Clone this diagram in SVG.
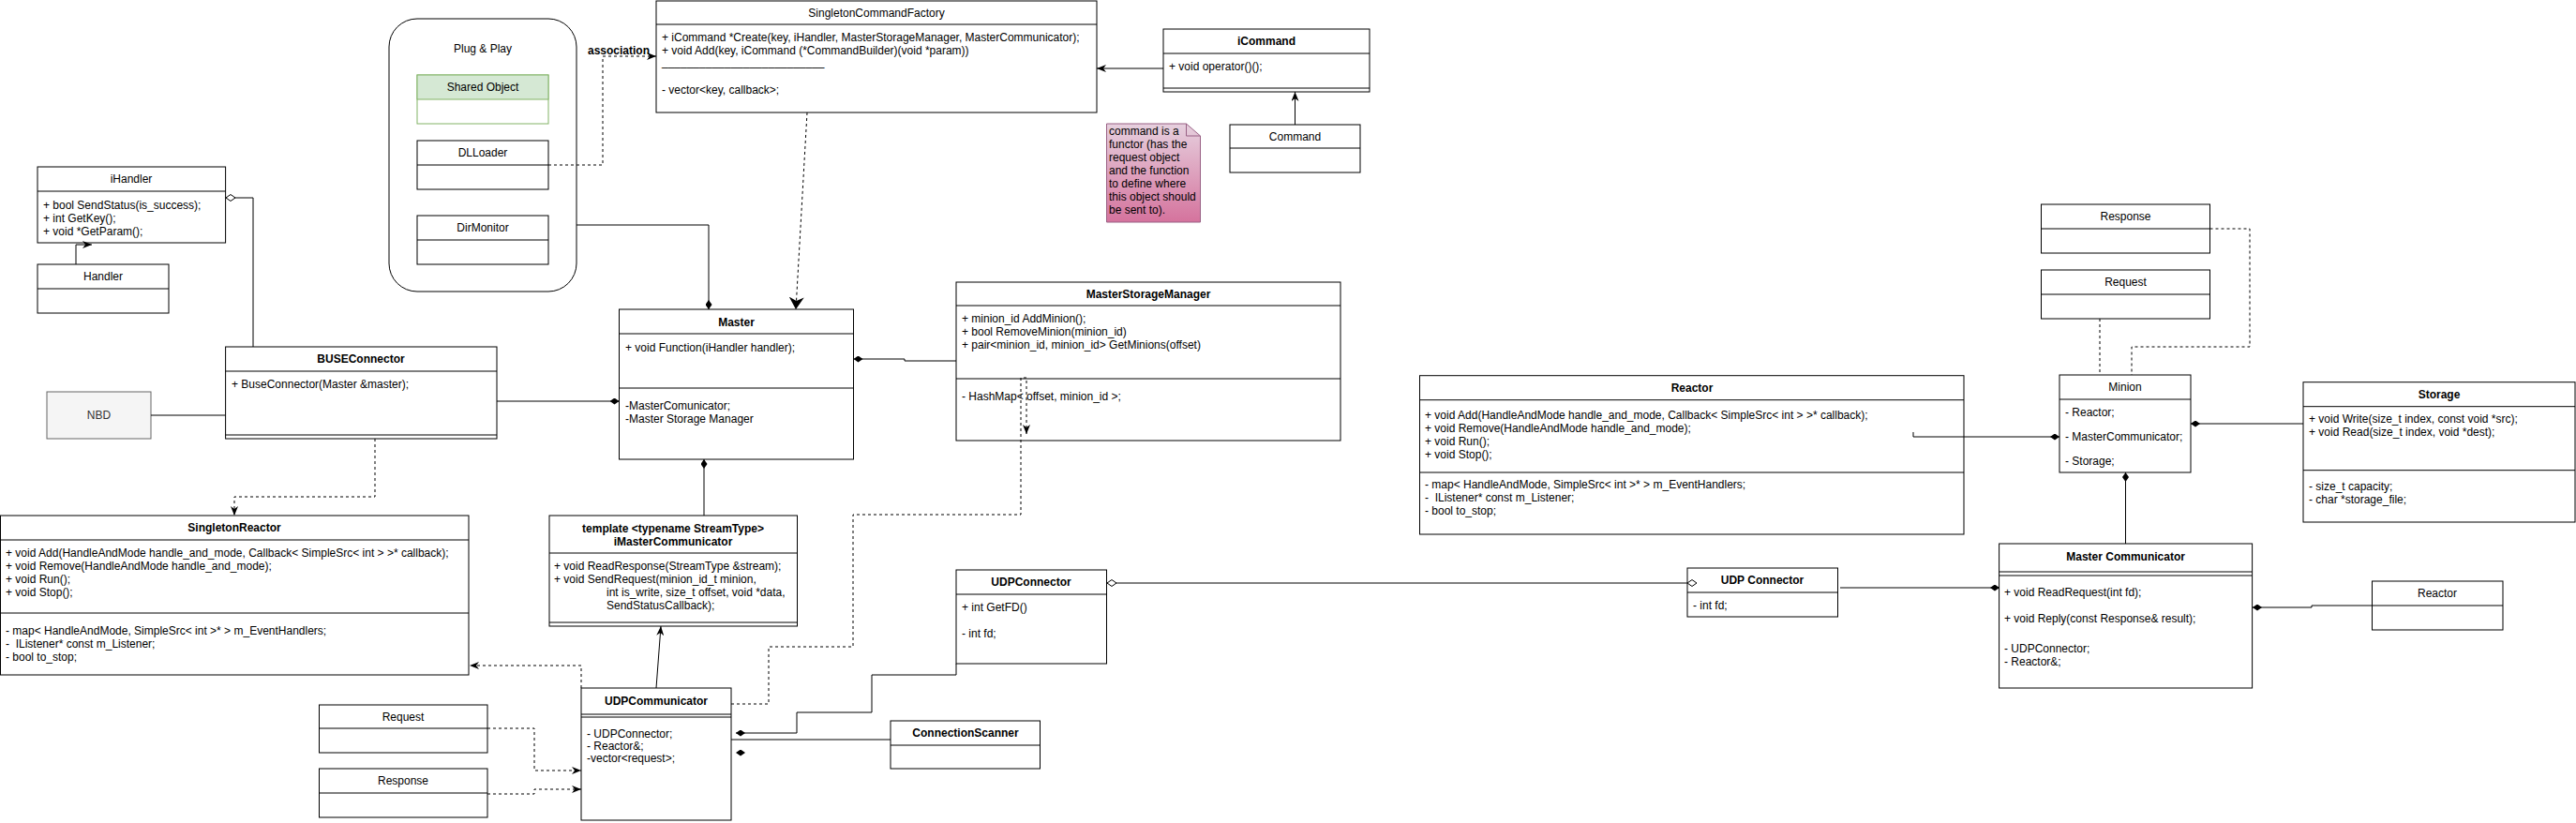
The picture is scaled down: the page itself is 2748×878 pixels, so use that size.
<svg xmlns="http://www.w3.org/2000/svg" width="2748" height="878" viewBox="0 0 2748 878">
<style>
.box{fill:#fff;stroke:#000;stroke-width:1}
.ln{fill:none;stroke:#000;stroke-width:1}
.t{font-family:"Liberation Sans",Arial,sans-serif;font-size:12px;fill:#000}
.b{font-weight:bold}
.c{text-anchor:middle}
.e{fill:none;stroke:#000;stroke-width:1}
.d{stroke-dasharray:3,3}
</style>
<defs>
<marker id="arr" viewBox="0 0 10 8" refX="10" refY="4" markerWidth="10" markerHeight="8" orient="auto" markerUnits="userSpaceOnUse"><path d="M0,0 L10,4 L0,8 L3,4 Z" fill="#000"/></marker>
<marker id="arrBig" viewBox="0 0 13 16" refX="13" refY="8" markerWidth="13" markerHeight="16" orient="auto" markerUnits="userSpaceOnUse"><path d="M0,0 L13,8 L0,16 L4,8 Z" fill="#000"/></marker>
<marker id="dia" viewBox="0 0 10 7" refX="10" refY="3.5" markerWidth="10" markerHeight="7" orient="auto" markerUnits="userSpaceOnUse"><path d="M0,3.5 L5,0 L10,3.5 L5,7 Z" fill="#000"/></marker>
<marker id="odia" viewBox="-1 -1 12 9" refX="10" refY="3.5" markerWidth="12" markerHeight="9" orient="auto" markerUnits="userSpaceOnUse"><path d="M0,3.5 L5,0 L10,3.5 L5,7 Z" fill="#fff" stroke="#000" stroke-width="1"/></marker>
<linearGradient id="noteG" x1="0" y1="0" x2="0" y2="1"><stop offset="0" stop-color="#e6d0de"/><stop offset="1" stop-color="#d5739d"/></linearGradient>
</defs>
<rect width="2748" height="878" fill="#fff"/>

<g id="plugplay">
<rect class="box" x="415" y="20" width="200" height="291" rx="30" ry="30"/>
<text class="t c" x="515" y="56">Plug &amp; Play</text>
</g>
<g id="sharedobject">
<rect x="445" y="80" width="140" height="52" fill="#fff" stroke="#82b366"/>
<rect x="445" y="80" width="140" height="26" fill="#d5e8d4" stroke="#82b366"/>
<text class="t c" x="515" y="97">Shared Object</text>
</g>
<g id="dlloader">
<rect class="box" x="445" y="150" width="140" height="52"/>
<line class="ln" x1="445" y1="176" x2="585" y2="176"/>
<text class="t c" x="515" y="167">DLLoader</text>
</g>
<g id="dirmonitor">
<rect class="box" x="445" y="230" width="140" height="52"/>
<line class="ln" x1="445" y1="256" x2="585" y2="256"/>
<text class="t c" x="515" y="247">DirMonitor</text>
</g>

<g id="singletoncommandfactory">
<rect class="box" x="700" y="1" width="470" height="119"/>
<line class="ln" x1="700" y1="26" x2="1170" y2="26"/>
<text class="t c" x="935" y="18">SingletonCommandFactory</text>
<text class="t" x="706" y="44">+ iCommand *Create(key, iHandler, MasterStorageManager, MasterCommunicator);</text>
<text class="t" x="706" y="58">+ void Add(key, iCommand (*CommandBuilder)(void *param))</text>
<text class="t" x="706" y="70">__________________________</text>
<text class="t" x="706" y="100">- vector&lt;key, callback&gt;;</text>
</g>

<g id="icommand">
<rect class="box" x="1241" y="31" width="220" height="67"/>
<line class="ln" x1="1241" y1="57" x2="1461" y2="57"/>
<line class="ln" x1="1241" y1="94" x2="1461" y2="94"/>
<text class="t b c" x="1351" y="48">iCommand</text>
<text class="t" x="1247" y="75">+ void operator()();</text>
</g>

<g id="command">
<rect class="box" x="1312" y="133" width="139" height="51"/>
<line class="ln" x1="1312" y1="158" x2="1451" y2="158"/>
<text class="t c" x="1381.5" y="150">Command</text>
</g>

<g id="note">
<path d="M1180.5,132 H1265.5 L1280.5,145 V237 H1180.5 Z" fill="url(#noteG)" stroke="#996185"/>
<path d="M1265.5,132 V145 H1280.5" fill="none" stroke="#996185"/>
<text class="t" x="1183" y="144">command is a</text>
<text class="t" x="1183" y="158">functor (has the</text>
<text class="t" x="1183" y="172">request object</text>
<text class="t" x="1183" y="186">and the function</text>
<text class="t" x="1183" y="200">to define where</text>
<text class="t" x="1183" y="214">this object should</text>
<text class="t" x="1183" y="228">be sent to).</text>
</g>

<g id="ihandler">
<rect class="box" x="40" y="178" width="200.6" height="81"/>
<line class="ln" x1="40" y1="204" x2="240.6" y2="204"/>
<text class="t c" x="140" y="195">iHandler</text>
<text class="t" x="46" y="223">+ bool SendStatus(is_success);</text>
<text class="t" x="46" y="237">+ int GetKey();</text>
<text class="t" x="46" y="251">+ void *GetParam();</text>
</g>

<g id="handler">
<rect class="box" x="40" y="282" width="140" height="52"/>
<line class="ln" x1="40" y1="308" x2="180" y2="308"/>
<text class="t c" x="110" y="299">Handler</text>
</g>

<g id="buseconnector">
<rect class="box" x="240.6" y="370" width="289.4" height="98"/>
<line class="ln" x1="240.6" y1="396" x2="530" y2="396"/>
<line class="ln" x1="240.6" y1="464" x2="530" y2="464"/>
<text class="t b c" x="385" y="387">BUSEConnector</text>
<text class="t" x="247" y="414">+ BuseConnector(Master &amp;master);</text>
</g>

<g id="nbd">
<rect x="50" y="418" width="111" height="50" fill="#f5f5f5" stroke="#666666"/>
<text class="t c" x="105.5" y="447" fill="#333333" style="fill:#333333">NBD</text>
</g>

<g id="singletonreactor">
<rect class="box" x="0.5" y="550" width="499.5" height="170"/>
<line class="ln" x1="0.5" y1="576" x2="500" y2="576"/>
<line class="ln" x1="0.5" y1="654" x2="500" y2="654"/>
<text class="t b c" x="250" y="567">SingletonReactor</text>
<text class="t" x="6" y="594">+ void Add(HandleAndMode handle_and_mode, Callback&lt; SimpleSrc&lt; int &gt; &gt;* callback);</text>
<text class="t" x="6" y="608">+ void Remove(HandleAndMode handle_and_mode);</text>
<text class="t" x="6" y="622">+ void Run();</text>
<text class="t" x="6" y="636">+ void Stop();</text>
<text class="t" x="6" y="677">- map&lt; HandleAndMode, SimpleSrc&lt; int &gt;* &gt; m_EventHandlers;</text>
<text class="t" x="6" y="691" xml:space="preserve">-  IListener* const m_Listener;</text>
<text class="t" x="6" y="705">- bool to_stop;</text>
</g>

<g id="master">
<rect class="box" x="660.5" y="330" width="250" height="160"/>
<line class="ln" x1="660.5" y1="356" x2="910.5" y2="356"/>
<line class="ln" x1="660.5" y1="414" x2="910.5" y2="414"/>
<text class="t b c" x="785.5" y="348">Master</text>
<text class="t" x="667" y="375">+ void Function(iHandler handler);</text>
<text class="t" x="667" y="437">-MasterComunicator;</text>
<text class="t" x="667" y="451">-Master Storage Manager</text>
</g>

<g id="masterstoragemanager">
<rect class="box" x="1020" y="301" width="410" height="169"/>
<line class="ln" x1="1020" y1="326" x2="1430" y2="326"/>
<line class="ln" x1="1020" y1="404" x2="1430" y2="404"/>
<text class="t b c" x="1225" y="318">MasterStorageManager</text>
<text class="t" x="1026" y="344">+ minion_id AddMinion();</text>
<text class="t" x="1026" y="358">+ bool RemoveMinion(minion_id)</text>
<text class="t" x="1026" y="372">+ pair&lt;minion_id, minion_id&gt; GetMinions(offset)</text>
<text class="t" x="1026" y="427">- HashMap&lt; offset, minion_id &gt;;</text>
</g>

<g id="imastercommunicator">
<rect class="box" x="586" y="550" width="264.5" height="118"/>
<line class="ln" x1="586" y1="590" x2="850.5" y2="590"/>
<line class="ln" x1="586" y1="664" x2="850.5" y2="664"/>
<text class="t b c" x="718" y="568">template &lt;typename StreamType&gt;</text>
<text class="t b c" x="718" y="582">iMasterCommunicator</text>
<text class="t" x="591" y="608">+ void ReadResponse(StreamType &amp;stream);</text>
<text class="t" x="591" y="622">+ void SendRequest(minion_id_t minion,</text>
<text class="t" x="647" y="636">int is_write, size_t offset, void *data,</text>
<text class="t" x="647" y="650">SendStatusCallback);</text>
</g>

<g id="udpcommunicator">
<rect class="box" x="620" y="734" width="160" height="141"/>
<line class="ln" x1="620" y1="762" x2="780" y2="762"/>
<line class="ln" x1="620" y1="765" x2="780" y2="765"/>
<text class="t b c" x="700" y="752">UDPCommunicator</text>
<text class="t" x="626" y="787">- UDPConnector;</text>
<text class="t" x="626" y="800">- Reactor&amp;;</text>
<text class="t" x="626" y="813">-vector&lt;request&gt;;</text>
</g>

<g id="request-bottom">
<rect class="box" x="340.5" y="752" width="179.5" height="51"/>
<line class="ln" x1="340.5" y1="777" x2="520" y2="777"/>
<text class="t c" x="430" y="769">Request</text>
</g>

<g id="response-bottom">
<rect class="box" x="340.5" y="820" width="179.5" height="52"/>
<line class="ln" x1="340.5" y1="846" x2="520" y2="846"/>
<text class="t c" x="430" y="837">Response</text>
</g>

<g id="connectionscanner">
<rect class="box" x="950" y="769" width="159.5" height="51"/>
<line class="ln" x1="950" y1="795" x2="1109.5" y2="795"/>
<text class="t b c" x="1030" y="786">ConnectionScanner</text>
</g>

<g id="udpconnector-left">
<rect class="box" x="1020" y="608" width="160.5" height="100"/>
<line class="ln" x1="1020" y1="634" x2="1180.5" y2="634"/>
<text class="t b c" x="1100" y="625">UDPConnector</text>
<text class="t" x="1026" y="652">+ int GetFD()</text>
<text class="t" x="1026" y="680">- int fd;</text>
</g>

<g id="udpconnector-right">
<rect class="box" x="1800" y="606" width="160.5" height="52"/>
<line class="ln" x1="1800" y1="632" x2="1960.5" y2="632"/>
<text class="t b c" x="1880" y="623">UDP Connector</text>
<text class="t" x="1806" y="650">- int fd;</text>
</g>

<g id="reactor">
<rect class="box" x="1514.5" y="400.7" width="580.5" height="169.3"/>
<line class="ln" x1="1514.5" y1="426.7" x2="2095" y2="426.7"/>
<line class="ln" x1="1514.5" y1="504" x2="2095" y2="504"/>
<text class="t b c" x="1805" y="418">Reactor</text>
<text class="t" x="1520" y="447">+ void Add(HandleAndMode handle_and_mode, Callback&lt; SimpleSrc&lt; int &gt; &gt;* callback);</text>
<text class="t" x="1520" y="461">+ void Remove(HandleAndMode handle_and_mode);</text>
<text class="t" x="1520" y="475">+ void Run();</text>
<text class="t" x="1520" y="489">+ void Stop();</text>
<text class="t" x="1520" y="521">- map&lt; HandleAndMode, SimpleSrc&lt; int &gt;* &gt; m_EventHandlers;</text>
<text class="t" x="1520" y="535" xml:space="preserve">-  IListener* const m_Listener;</text>
<text class="t" x="1520" y="549">- bool to_stop;</text>
</g>

<g id="response-top">
<rect class="box" x="2177.5" y="218" width="180" height="52"/>
<line class="ln" x1="2177.5" y1="244" x2="2357.5" y2="244"/>
<text class="t c" x="2267.5" y="235">Response</text>
</g>

<g id="request-top">
<rect class="box" x="2177.5" y="288" width="180" height="52"/>
<line class="ln" x1="2177.5" y1="314" x2="2357.5" y2="314"/>
<text class="t c" x="2267.5" y="305">Request</text>
</g>

<g id="minion">
<rect class="box" x="2197" y="400" width="140" height="104"/>
<line class="ln" x1="2197" y1="426" x2="2337" y2="426"/>
<text class="t c" x="2267" y="417">Minion</text>
<text class="t" x="2203" y="444">- Reactor;</text>
<text class="t" x="2203" y="470">- MasterCommunicator;</text>
<text class="t" x="2203" y="496">- Storage;</text>
</g>

<g id="storage">
<rect class="box" x="2457" y="407.7" width="290" height="149.3"/>
<line class="ln" x1="2457" y1="433.7" x2="2747" y2="433.7"/>
<line class="ln" x1="2457" y1="501.7" x2="2747" y2="501.7"/>
<text class="t b c" x="2602" y="425">Storage</text>
<text class="t" x="2463" y="451">+ void Write(size_t index, const void *src);</text>
<text class="t" x="2463" y="465">+ void Read(size_t index, void *dest);</text>
<text class="t" x="2463" y="523">- size_t capacity;</text>
<text class="t" x="2463" y="537">- char *storage_file;</text>
</g>

<g id="mastercommunicator">
<rect class="box" x="2132.6" y="580" width="270" height="154"/>
<line class="ln" x1="2132.6" y1="610" x2="2402.6" y2="610"/>
<line class="ln" x1="2132.6" y1="614" x2="2402.6" y2="614"/>
<text class="t b c" x="2267.6" y="598">Master Communicator</text>
<text class="t" x="2138" y="636">+ void ReadRequest(int fd);</text>
<text class="t" x="2138" y="664">+ void Reply(const Response&amp; result);</text>
<text class="t" x="2138" y="696">- UDPConnector;</text>
<text class="t" x="2138" y="710">- Reactor&amp;;</text>
</g>

<g id="reactor-small">
<rect class="box" x="2530.5" y="620" width="139.5" height="52"/>
<line class="ln" x1="2530.5" y1="646" x2="2670" y2="646"/>
<text class="t c" x="2600" y="637">Reactor</text>
</g>

<g id="connectors">
<path class="e d" d="M585,176 H643 V60 H700" marker-end="url(#arr)"/>
<text class="t b c" x="660" y="58">association</text>
<path class="e" d="M615,240 H756 V330" marker-end="url(#dia)"/>
<path class="e d" d="M861,120 L849,330" marker-end="url(#arrBig)"/>
<path class="e" d="M1241,73 H1170" marker-end="url(#arr)"/>
<path class="e" d="M1381.5,133 V98" marker-end="url(#arr)"/>
<path class="e" d="M81,282 V261 H98" marker-end="url(#arr)"/>
<path class="e" d="M270,370 V211 H241" marker-end="url(#odia)"/>
<path class="e" d="M161,443 H240.6"/>
<path class="e" d="M530,428 H660.5" marker-end="url(#dia)"/>
<path class="e d" d="M400,468 V530 H250 V550" marker-end="url(#arr)"/>
<path class="e" d="M1020,385 H965 V383 H910.5" marker-end="url(#dia)"/>
<path class="e" d="M751,550 V490" marker-end="url(#dia)"/>
<path class="e" d="M700,734 L705,668" marker-end="url(#arr)"/>
<path class="e d" d="M620,734 V710 H501" marker-end="url(#arr)"/>
<path class="e d" d="M520,777 H570 V822 H620" marker-end="url(#arr)"/>
<path class="e d" d="M520,847 H570 V842 H620" marker-end="url(#arr)"/>
<path class="e d" d="M780,751 H820 V690 H910 V549 H1089 V403 H1095 V463" marker-end="url(#arr)"/>
<path class="e" d="M1020,708 V720 H930 V760 H850 V782 H785" marker-end="url(#dia)"/>
<path class="e" d="M950,789 H780"/>
<path d="M790,803 L785,803" fill="none" stroke="none" marker-end="url(#dia)"/>
<path class="e" d="M1800,622 H1181" marker-start="url(#odia)" marker-end="url(#odia)"/>
<path class="e" d="M1963,627 H2133" marker-end="url(#dia)"/>
<path class="e" d="M2041,461 V466 H2197" marker-end="url(#dia)"/>
<path class="e" d="M2457,452 H2337" marker-end="url(#dia)"/>
<path class="e" d="M2267.5,580 V504" marker-end="url(#dia)"/>
<path class="e" d="M2530.5,646 H2466 V648 H2403" marker-end="url(#dia)"/>
<path class="e d" d="M2240,340 V400"/>
<path class="e d" d="M2357.5,244 H2400 V370 H2274 V400"/>
</g>
</svg>
